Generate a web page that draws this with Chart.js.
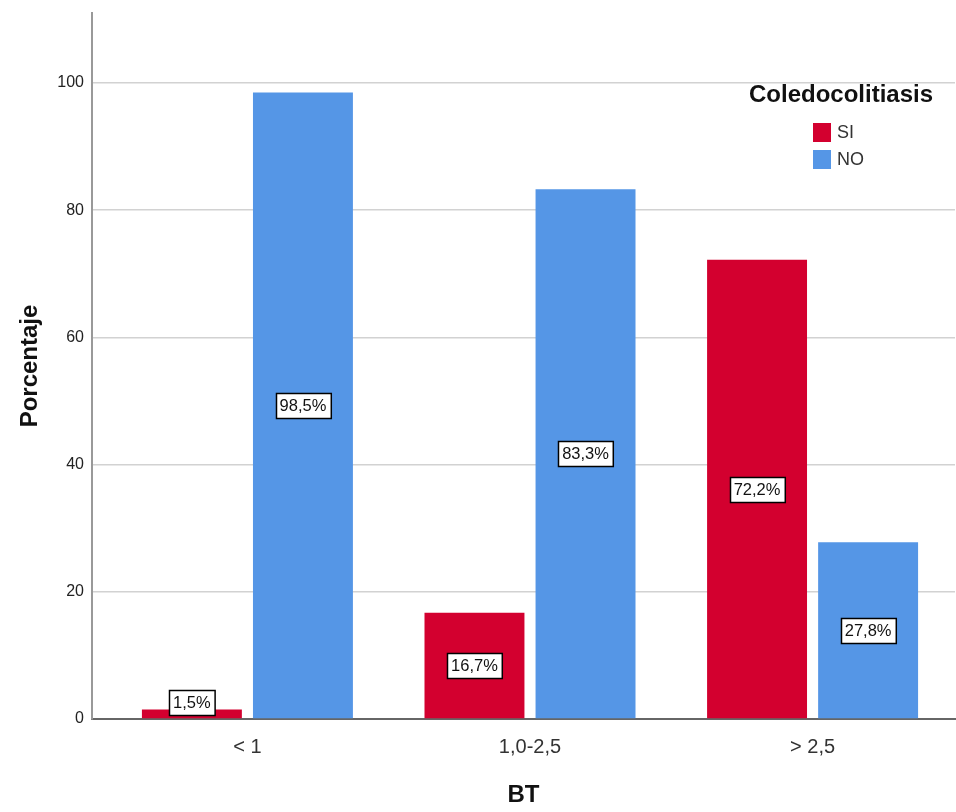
<!DOCTYPE html>
<html>
<head>
<meta charset="utf-8">
<script src="https://cdn.jsdelivr.net/npm/chart.js@4.4.1/dist/chart.umd.min.js"></script>
<style>
  html, body { margin: 0; padding: 0; background: #fff; }
  #wrap { width: 956px; height: 812px; }
</style>
</head>
<body>
<div id="wrap"><canvas id="grafico"></canvas></div>
<script>
// ---------------- datos ------------------------
const categorias = ['< 1', '1,0-2,5', '> 2,5'];
const valoresSI = [1.5, 16.7, 72.2];
const valoresNO = [98.5, 83.3, 27.8];
const series = ['SI', 'NO'];
const ticksY = [0, 20, 40, 60, 80, 100];

const FUENTE = "'Liberation Sans', Arial, sans-serif";

// etiquetas de porcentaje dentro de las barras
const etiquetasBarras = {
    id: 'etiquetasBarras',
    afterDatasetsDraw(chart) {
        const ctx = chart.ctx;
        ctx.save();
        ctx.font = '16.5px ' + FUENTE;
        ctx.textAlign = 'center';
        ctx.textBaseline = 'middle';
        chart.data.datasets.forEach((ds, i) => {
            chart.getDatasetMeta(i).data.forEach((bar, j) => {
                const txt = ds.data[j].y.toFixed(1).replace('.', ',') + '%';
                const w = ctx.measureText(txt).width + 8;
                const h = 25;
                let cy = (bar.y + bar.base) / 2;
                cy = Math.min(cy, bar.base - h / 2 - 3);
                const x0 = Math.round(bar.x - w / 2) + 0.5;
                const y0 = Math.round(cy - h / 2) + 0.5;
                ctx.fillStyle = '#ffffff';
                ctx.fillRect(x0, y0, w, h);
                ctx.strokeStyle = '#000000';
                ctx.lineWidth = 1.5;
                ctx.strokeRect(x0, y0, w, h);
                ctx.fillStyle = '#111111';
                ctx.fillText(txt, bar.x, cy + 1);
            });
        });
        ctx.restore();
    }
};

// leyenda con titulo, arriba a la derecha
const leyenda = {
    id: 'leyenda',
    afterDraw(chart) {
        const ctx = chart.ctx;
        ctx.save();
        ctx.fillStyle = '#111111';
        ctx.font = 'bold 24px ' + FUENTE;
        ctx.textAlign = 'center';
        ctx.textBaseline = 'middle';
        ctx.fillText('Coledocolitiasis', 841, 95);
        ctx.font = '18px ' + FUENTE;
        ctx.textAlign = 'left';
        chart.data.datasets.forEach((ds, i) => {
            const y = 123 + i * 27;
            ctx.fillStyle = ds.backgroundColor;
            ctx.fillRect(813, y, 18, 19);
            ctx.fillStyle = '#333333';
            ctx.fillText(ds.label, 837, y + 10);
        });
        ctx.restore();
    }
};

new Chart(document.getElementById('grafico'), {
    type: 'bar',
    data: {
        datasets: [{
            label: series[0],
            data: valoresSI.map((v, i) => ({ x: i, y: v })),
            backgroundColor: '#d3002f',
            borderWidth: 0
        }, {
            label: series[1],
            data: valoresNO.map((v, i) => ({ x: i, y: v })),
            backgroundColor: '#5596e6',
            borderWidth: 0
        }]
    },
    options: {
        responsive: true,
        maintainAspectRatio: false,
        animation: false,
        categoryPercentage: 0.786,
        barPercentage: 0.9,
        layout: {
            padding: { top: 13, right: 1, bottom: 0, left: 0 }
        },
        scales: {
            x: {
                type: 'linear',
                offset: false,
                min: -0.55,
                max: 2.504,
                afterFit: (s) => { s.height = 93; s.paddingLeft = 0; s.paddingRight = 0; },
                ticks: {
                    stepSize: 1,
                    includeBounds: false,
                    autoSkip: false,
                    maxRotation: 0,
                    padding: 8,
                    color: '#333333',
                    font: { family: FUENTE, size: 20 },
                    callback: (v) => categorias[v] !== undefined ? categorias[v] : ''
                },
                grid: { display: false, offset: false },
                border: { display: true, color: '#666666', width: 2 },
                title: {
                    display: true,
                    text: 'BT',
                    color: '#111111',
                    font: { family: FUENTE, size: 24, weight: 'bold' },
                    padding: { top: 0, bottom: 2 }
                }
            },
            y: {
                min: 0,
                max: 111,
                afterFit: (s) => { s.width = 92; s.paddingTop = 0; s.paddingBottom = 0; },
                afterBuildTicks: (s) => { s.ticks = ticksY.map(v => ({ value: v })); },
                ticks: {
                    includeBounds: false,
                    padding: 8,
                    color: '#222222',
                    font: { family: FUENTE, size: 16 }
                },
                grid: {
                    color: '#d2d2d2',
                    lineWidth: 1.5,
                    drawTicks: false
                },
                border: { display: true, color: '#999999', width: 2 },
                title: {
                    display: true,
                    text: 'Porcentaje',
                    color: '#111111',
                    font: { family: FUENTE, size: 24, weight: 'bold' },
                    padding: { top: 16, bottom: 0 }
                }
            }
        },
        plugins: {
            legend: { display: false },
            tooltip: { enabled: false }
        }
    },
    plugins: [etiquetasBarras, leyenda]
});
</script>
</body>
</html>
